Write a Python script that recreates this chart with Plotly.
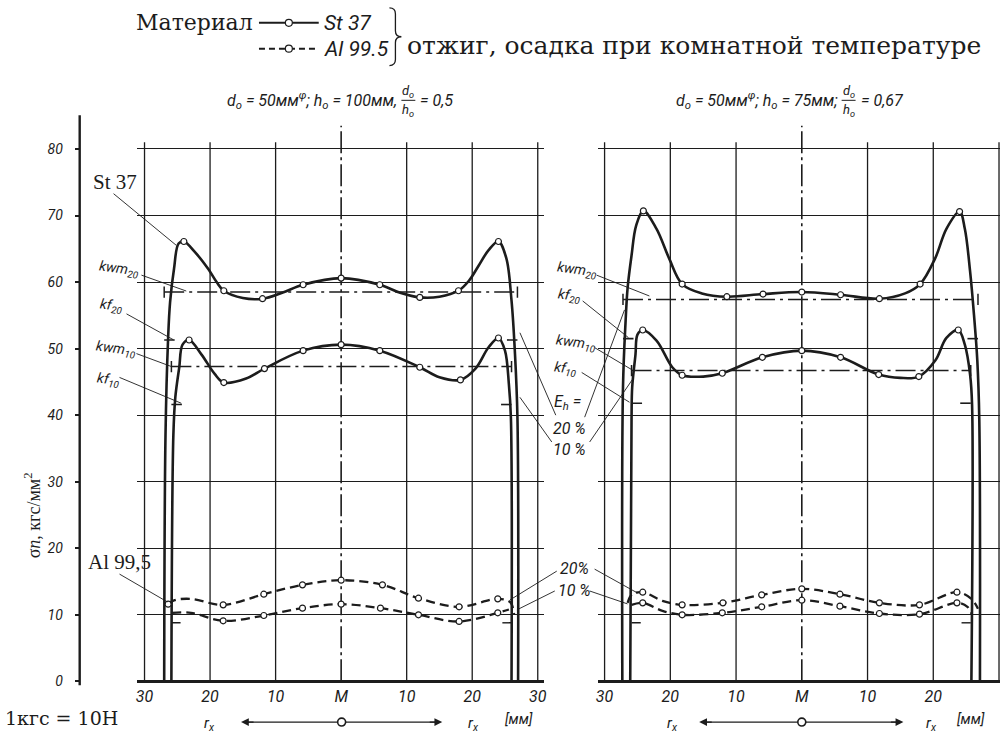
import plotly.graph_objects as go

W, H = 1002, 740
INK = "#1c1c1c"
SANS = "Roboto, Liberation Sans, sans-serif"
SERIF = "Liberation Serif, Times New Roman, serif"
WIDE_SERIF = "DejaVu Serif, Liberation Serif, serif"

# ---------------- data ----------------
# radial position r_x [mm] (negative = left of the centre M), normal stress sigma_n [kgf/mm^2]

# d0 = 50 mm, h0 = 100 mm  (left panel)
L_ST20_X = [-27.0, -26.8, -26.4, -26.1, -25.5, -24.8, -24.0, -22.3, -20.3, -19.0, -17.9, -15.0, -12.0, -9.0,
            -5.8, 0.0, 5.9, 9.0, 12.0, 15.0, 17.9, 19.5, 21.0, 22.5, 24.0, 25.2, 26.0, 26.5, 26.9, 27.0]
L_ST20_Y = [0.0, 37.0, 51.6, 57.0, 62.0, 65.8, 66.1, 64.5, 62.0, 60.0, 58.7, 57.6, 57.5, 58.4,
            59.6, 60.6, 59.6, 58.4, 57.7, 57.8, 58.7, 60.2, 62.5, 64.8, 66.1, 63.6, 57.2, 49.7, 39.7, 0.0]
L_ST20_MX = [-24.0, -17.9, -12.0, -5.8, 0.0, 5.9, 12.0, 17.9, 24.0]
L_ST20_MY = [66.1, 58.7, 57.5, 59.6, 60.6, 59.6, 57.7, 58.7, 66.1]

L_ST10_X = [-25.9, -25.6, -25.3, -24.7, -24.2, -23.2, -21.3, -19.3, -17.9, -14.5, -11.7, -5.8, 0.0,
            5.9, 12.0, 15.0, 18.2, 20.5, 22.5, 24.0, 25.0, 25.6, 25.9, 26.0]
L_ST10_Y = [0.0, 37.0, 42.7, 47.2, 50.6, 51.3, 49.1, 46.2, 44.9, 45.5, 47.0, 49.7, 50.6,
            49.7, 47.2, 45.7, 45.3, 47.0, 50.2, 51.6, 49.7, 44.6, 39.7, 0.0]
L_ST10_MX = [-23.2, -17.9, -11.7, -5.8, 0.0, 5.9, 12.0, 18.2, 24.0]
L_ST10_MY = [51.3, 44.9, 47.0, 49.7, 50.6, 49.7, 47.2, 45.3, 51.6]

L_AL20_X = [-26.4, -25.4, -22.9, -18.0, -11.8, -5.9, 0.0, 6.3, 11.8, 18.0, 23.9, 25.8, 26.4]
L_AL20_Y = [11.6, 12.2, 12.4, 11.5, 13.1, 14.5, 15.2, 14.5, 12.5, 11.2, 12.4, 11.9, 10.0]
L_AL20_MX = [-26.4, -18.0, -11.8, -5.9, 0.0, 6.3, 11.8, 18.0, 23.9]
L_AL20_MY = [11.6, 11.5, 13.1, 14.5, 15.2, 14.5, 12.5, 11.2, 12.4]

L_AL10_X = [-25.8, -22.9, -18.0, -11.8, -5.9, 0.0, 6.0, 11.8, 18.0, 23.9, 25.6]
L_AL10_Y = [10.3, 10.3, 9.1, 9.9, 11.0, 11.6, 11.0, 10.0, 9.0, 10.3, 10.8]
L_AL10_MX = [-18.0, -11.8, -5.9, 0.0, 6.0, 11.8, 18.0, 23.9]
L_AL10_MY = [9.1, 9.9, 11.0, 11.6, 11.0, 10.0, 9.0, 10.3]

# mean (kwm) and flow (kf) stresses, with the contact radius of each stage
L_KWM = {"20": 58.5, "10": 47.3}
L_KF = {"20": 51.3, "10": 41.6}
L_EDGE = {"20": (-27.0, 26.9), "10": (-25.9, 26.0)}

# d0 = 50 mm, h0 = 75 mm  (right panel)
R_ST20_X = [-27.3, -27.2, -26.8, -26.5, -25.9, -25.2, -24.1, -22.1, -20.2, -18.2, -15.2, -11.4, -5.9,
            0.0, 5.9, 11.8, 15.7, 18.0, 20.3, 22.0, 24.0, 24.8, 25.6, 26.2, 26.7, 27.0, 27.1]
R_ST20_Y = [0.0, 44.2, 54.2, 59.1, 64.0, 68.5, 70.7, 68.0, 63.6, 59.7, 58.3, 57.8, 58.2,
            58.5, 58.1, 57.5, 58.3, 59.7, 63.6, 68.0, 70.6, 68.0, 61.6, 55.0, 48.2, 39.3, 0.0]
R_ST20_MX = [-24.1, -18.2, -11.4, -5.9, 0.0, 5.9, 11.8, 18.0, 24.0]
R_ST20_MY = [70.7, 59.7, 57.8, 58.2, 58.5, 58.1, 57.5, 59.7, 70.6]

R_ST10_X = [-26.1, -25.9, -25.8, -25.3, -25.0, -24.2, -22.1, -19.7, -18.2, -15.0, -12.1, -6.0, 0.0,
            5.9, 11.7, 15.0, 17.8, 20.3, 22.0, 23.8, 24.8, 25.6, 25.9, 25.8]
R_ST10_Y = [0.0, 39.3, 44.2, 49.1, 52.1, 52.8, 51.2, 47.2, 46.0, 45.8, 46.3, 48.7, 49.7,
            48.7, 46.1, 45.6, 45.8, 48.2, 51.6, 52.8, 50.6, 46.1, 41.6, 0.0]
R_ST10_MX = [-24.2, -18.2, -12.1, -6.0, 0.0, 5.9, 11.7, 17.8, 23.8]
R_ST10_MY = [52.8, 46.0, 46.3, 48.7, 49.7, 48.7, 46.1, 45.8, 52.8]

R_AL20_X = [-26.5, -25.8, -24.2, -21.2, -18.2, -12.0, -6.1, 0.0, 5.8, 11.8, 17.9, 23.6, 25.8, 26.8]
R_AL20_Y = [11.8, 13.1, 13.4, 12.1, 11.5, 11.8, 13.0, 13.9, 13.1, 11.8, 11.5, 13.4, 12.4, 10.9]
R_AL20_MX = [-24.2, -18.2, -12.0, -6.1, 0.0, 5.8, 11.8, 17.9, 23.6]
R_AL20_MY = [13.4, 11.5, 11.8, 13.0, 13.9, 13.1, 11.8, 11.5, 13.4]

R_AL10_X = [-25.9, -24.2, -21.2, -18.2, -12.1, -6.1, 0.0, 5.8, 11.8, 17.9, 23.6, 25.2, 25.9]
R_AL10_Y = [11.5, 11.8, 10.6, 10.0, 10.3, 11.2, 12.2, 11.3, 10.2, 10.1, 11.8, 11.2, 10.0]
R_AL10_MX = [-24.2, -18.2, -12.1, -6.1, 0.0, 5.8, 11.8, 17.9, 23.6]
R_AL10_MY = [11.8, 10.0, 10.3, 11.2, 12.2, 11.3, 10.2, 10.1, 11.8]

R_KWM = {"20": 57.4, "10": 46.7}
R_KF = {"20": 51.5, "10": 41.8}
R_EDGE = {"20": (-27.2, 26.8), "10": (-25.9, 25.7)}

AL_KF = 8.8

X_TICKS = [-30, -20, -10, 0, 10, 20, 30]
X_TICKTEXT = ["30", "20", "10", "M", "10", "20", "30"]
Y_TICKS = [0, 10, 20, 30, 40, 50, 60, 70, 80]


# ---------------- helpers ----------------
def px(x):
    return x / W


def py(y):
    return 1 - y / H


def seg(x0, y0, x1, y1, w=1.0, dash="solid"):
    return dict(type="line", xref="paper", yref="paper", layer="above",
                x0=px(x0), y0=py(y0), x1=px(x1), y1=py(y1),
                line=dict(color=INK, width=w, dash=dash))


def text(x, y, s, size, family=SANS, italic=True, xanchor="center", angle=0):
    return dict(x=px(x), y=py(y), xref="paper", yref="paper", text=s, showarrow=False,
                xanchor=xanchor, yanchor="middle", textangle=angle,
                font=dict(family=family, size=size, color=INK,
                          style="italic" if italic else "normal"))


fig = go.Figure()


def curve(xs, ys, mx, my, xa, ya, dashed):
    fig.add_trace(go.Scatter(
        x=xs, y=ys, xaxis=xa, yaxis=ya, mode="lines",
        line=dict(color=INK, width=2.3 if dashed else 2.6, shape="spline", smoothing=1.0,
                  dash="9px,5px" if dashed else "solid"),
        hoverinfo="skip", showlegend=False))
    fig.add_trace(go.Scatter(
        x=mx, y=my, xaxis=xa, yaxis=ya, mode="markers",
        marker=dict(symbol="circle", size=6, color="white", line=dict(color=INK, width=1.2)),
        hoverinfo="skip", showlegend=False))


def levels(kwm, kf, edge, xa, ya):
    for k in ("20", "10"):
        lo, hi = edge[k]
        fig.add_trace(go.Scatter(
            x=[lo, hi], y=[kwm[k], kwm[k]], xaxis=xa, yaxis=ya, mode="lines+markers",
            line=dict(color=INK, width=1.5, dash="20px,5px,3px,5px"),
            marker=dict(symbol="line-ns-open", size=8, line=dict(color=INK, width=1.5)),
            hoverinfo="skip", showlegend=False))
        fig.add_trace(go.Scatter(
            x=[lo, lo + 1.6, None, hi - 1.6, hi], y=[kf[k], kf[k], None, kf[k], kf[k]],
            xaxis=xa, yaxis=ya, mode="lines",
            line=dict(color=INK, width=1.6), hoverinfo="skip", showlegend=False))
    lo, hi = edge["10"]
    fig.add_trace(go.Scatter(
        x=[lo, lo + 1.4, None, hi - 1.4, hi], y=[AL_KF, AL_KF, None, AL_KF, AL_KF],
        xaxis=xa, yaxis=ya, mode="lines",
        line=dict(color=INK, width=1.4), hoverinfo="skip", showlegend=False))


# left panel
levels(L_KWM, L_KF, L_EDGE, "x", "y")
curve(L_ST20_X, L_ST20_Y, L_ST20_MX, L_ST20_MY, "x", "y", False)
curve(L_ST10_X, L_ST10_Y, L_ST10_MX, L_ST10_MY, "x", "y", False)
curve(L_AL20_X, L_AL20_Y, L_AL20_MX, L_AL20_MY, "x", "y", True)
curve(L_AL10_X, L_AL10_Y, L_AL10_MX, L_AL10_MY, "x", "y", True)

# right panel
levels(R_KWM, R_KF, R_EDGE, "x2", "y2")
curve(R_ST20_X, R_ST20_Y, R_ST20_MX, R_ST20_MY, "x2", "y2", False)
curve(R_ST10_X, R_ST10_Y, R_ST10_MX, R_ST10_MY, "x2", "y2", False)
curve(R_AL20_X, R_AL20_Y, R_AL20_MX, R_AL20_MY, "x2", "y2", True)
curve(R_AL10_X, R_AL10_Y, R_AL10_MX, R_AL10_MY, "x2", "y2", True)

# ---------------- axes ----------------
Y_LO, Y_HI = -0.4, 84.0
Y_RANGE = [Y_LO, Y_HI]
y_dom = [1 - (686 - Y_LO * 6.7) / H, 1 - (686 - Y_HI * 6.7) / H]

L_XRANGE = [-31.2, 31.0]
R_XRANGE = [-31.0, 30.15]
l_dom = [(340.5 - 31.2 * 6.58) / W, (340.5 + 31.0 * 6.58) / W]
r_dom = [(803 - 31.0 * 6.6) / W, 1.0]

xcommon = dict(tickvals=X_TICKS, ticktext=X_TICKTEXT, showgrid=False, zeroline=False,
               showline=False, ticks="", ticklabelstandoff=1,
               tickfont=dict(family=SANS, size=16, color=INK, style="italic"))
ycommon = dict(range=Y_RANGE, domain=y_dom, tickvals=Y_TICKS, showgrid=True,
               gridcolor=INK, gridwidth=1.3, zeroline=True, zerolinecolor=INK,
               zerolinewidth=2.6, showline=False)

fig.update_layout(
    width=W, height=H, margin=dict(l=0, r=0, t=0, b=0),
    paper_bgcolor="white", plot_bgcolor="white", showlegend=False,
    xaxis=dict(range=L_XRANGE, domain=l_dom, anchor="y", **xcommon),
    xaxis2=dict(range=R_XRANGE, domain=r_dom, anchor="y2", **xcommon),
    yaxis=dict(anchor="free", position=78 / W, ticks="outside", ticklen=5, tickwidth=1.5,
               tickcolor=INK, ticklabelstandoff=9,
               tickfont=dict(family=SANS, size=14, color=INK, style="italic"), **ycommon),
    yaxis2=dict(anchor="x2", showticklabels=False, ticks="", **ycommon),
)

shapes = []
# vertical grid lines, the centre line M drawn dash-dot
for xa in ("x", "x2"):
    for v in X_TICKS:
        if v == 0:
            shapes.append(dict(type="line", xref=xa, yref="y", x0=0, x1=0, y0=0, y1=83.5,
                               layer="below", line=dict(color=INK, width=1.6, dash="22px,4px,3px,4px")))
        else:
            shapes.append(dict(type="line", xref=xa, yref="y", x0=v, x1=v, y0=0, y1=81,
                               layer="below", line=dict(color=INK, width=1.3)))

# stress axis line
shapes.append(seg(78, 116, 78, 690, w=2.4))

# legend samples
shapes.append(seg(258, 23, 318, 23, w=2.0))
shapes.append(seg(258, 49, 318, 49, w=2.0, dash="6px,4px"))
for yy in (23, 49):
    shapes.append(dict(type="circle", xref="paper", yref="paper", layer="above",
                       x0=px(284.5), x1=px(291.5), y0=py(yy + 3.5), y1=py(yy - 3.5),
                       fillcolor="white", line=dict(color=INK, width=1.2)))

# brace
bx, bt, bb = 392, 8, 66
bm = (bt + bb) / 2
brace_pts = [("M", bx - 3, bt), ("Q", bx + 3, bt, bx + 3, bt + 6), ("L", bx + 3, bm - 6),
             ("Q", bx + 3, bm, bx + 9, bm), ("Q", bx + 3, bm, bx + 3, bm + 6),
             ("L", bx + 3, bb - 6), ("Q", bx + 3, bb, bx - 3, bb)]
path = ""
for p in brace_pts:
    cmd, coords = p[0], p[1:]
    pairs = [f"{px(coords[i]):.5f},{py(coords[i + 1]):.5f}" for i in range(0, len(coords), 2)]
    path += cmd + " " + " ".join(pairs) + " "
shapes.append(dict(type="path", xref="paper", yref="paper", path=path.strip(),
                   line=dict(color=INK, width=1.3)))

# fraction bars in the panel headings
shapes.append(seg(401, 101, 415, 101, w=1.0))
shapes.append(seg(843, 101, 857, 101, w=1.0))

# leader lines
for (a, b, c, d) in [
    (112, 195, 175, 247),   # St 37
    (118, 578, 166, 606),   # Al 99,5
    (140, 277, 185, 293), (125, 316, 172, 342), (135, 356, 170, 369), (118, 380, 180, 406),
    (597, 277, 650, 298), (583, 303, 629, 340), (595, 350, 632, 372), (582, 375, 630, 405),
    (520, 335, 556, 418), (520, 400, 552, 445), (585, 420, 625, 312), (590, 445, 633, 382),
    (557, 575, 510, 604), (555, 595, 517, 614), (595, 573, 638, 597), (590, 595, 628, 608),
]:
    shapes.append(seg(a, b, c, d, w=0.9))

# r_x arrows under the axes
for cx, x0, x1 in ((341, 240, 442), (803, 700, 905)):
    shapes.append(seg(x0 + 6, 727, x1 - 6, 727, w=1.3))
    shapes.append(dict(type="circle", xref="paper", yref="paper", layer="above",
                       x0=px(cx - 4), x1=px(cx + 4), y0=py(731), y1=py(723),
                       fillcolor="white", line=dict(color=INK, width=1.6)))

fig.update_layout(shapes=shapes)

ann = []
for cx, x0, x1 in ((341, 240, 442), (803, 700, 905)):
    for tip, ax in ((x0, 14), (x1, -14)):
        ann.append(dict(x=px(tip), y=py(727), xref="paper", yref="paper", text="",
                        showarrow=True, arrowhead=2, arrowsize=1.2, arrowwidth=1.3,
                        arrowcolor=INK, ax=ax, ay=0))

ann += [
    text(193, 23, "Материал", 22, WIDE_SERIF, italic=False),
    text(321, 23, "St 37", 21, xanchor="left"),
    text(321, 49, "Al 99.5", 21, xanchor="left"),
    text(405, 46, "отжиг, осадка при комнатной температуре", 25, WIDE_SERIF, italic=False,
         xanchor="left"),
    # panel headings
    text(399, 101, "d<sub>o</sub> = 50мм<sup>φ</sup>; h<sub>o</sub> = 100мм,", 16, xanchor="right"),
    text(408, 92, "d<sub>o</sub>", 13), text(408, 111, "h<sub>o</sub>", 13),
    text(418, 101, "= 0,5", 16, xanchor="left"),
    text(841, 101, "d<sub>o</sub> = 50мм<sup>φ</sup>; h<sub>o</sub> = 75мм;", 16, xanchor="right"),
    text(850, 92, "d<sub>o</sub>", 13), text(850, 111, "h<sub>o</sub>", 13),
    text(860, 101, "= 0,67", 16, xanchor="left"),
    # material labels
    text(113, 183, "St 37", 21, SERIF, italic=False),
    text(118, 566, "Al 99,5", 21, SERIF, italic=False),
    # stress axis title
    text(31, 519, "σ<i>n</i>, кгс/мм<sup>2</sup>", 18, SERIF, italic=False, angle=-90),
    text(60, 723, "1кгс = 10Н", 19, WIDE_SERIF, italic=False),
    # level labels, left
    text(117, 271, "kwm<sub>20</sub>", 14, angle=8),
    text(110, 308, "kf<sub>20</sub>", 14, angle=8),
    text(114, 351, "kwm<sub>10</sub>", 14, angle=8),
    text(107, 383, "kf<sub>10</sub>", 14, angle=8),
    # level labels, middle
    text(577, 272, "kwm<sub>20</sub>", 14, angle=8),
    text(570, 298, "kf<sub>20</sub>", 14, angle=8),
    text(576, 345, "kwm<sub>10</sub>", 14, angle=8),
    text(566, 372, "kf<sub>10</sub>", 14, angle=8),
    text(568, 405, "E<sub>h</sub> =", 16),
    text(570, 431, "20 %", 16),
    text(570, 453, "10 %", 16),
    text(575, 572, "20%", 16),
    text(575, 595, "10 %", 16),
    # radius labels
    text(208, 729, "r<sub>x</sub>", 15), text(473, 729, "r<sub>x</sub>", 15),
    text(519, 724, "[мм]", 14),
    text(673, 729, "r<sub>x</sub>", 15), text(933, 729, "r<sub>x</sub>", 15),
    text(973, 724, "[мм]", 14),
]
fig.update_layout(annotations=ann)

fig.write_html("out.html")
